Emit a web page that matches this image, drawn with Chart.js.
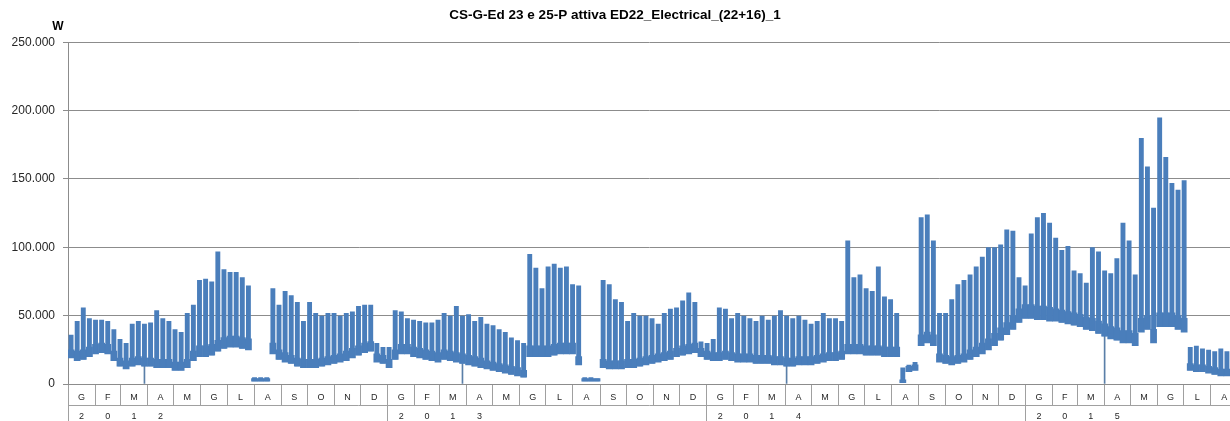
<!DOCTYPE html>
<html>
<head>
<meta charset="utf-8">
<script src="https://cdn.jsdelivr.net/npm/chart.js@4.4.1/dist/chart.umd.min.js"></script>
<style>
  html, body { margin: 0; padding: 0; background: #fff; overflow: hidden; }
  #wrap { width: 1230px; height: 421px; }
</style>
</head>
<body>
<div id="wrap"><canvas id="potenza"></canvas></div>
<script>
// weekly values, in kW (one entry per week, from 1 Jan 2012)
// peak = weekday maximum, base = night minimum, weekend = top of the weekend band
const peak = [
  36, 46, 56, 48, 47, 47, 46, 40, 33, 30,
  44, 46, 44, 45, 54, 48, 46, 40, 38, 52,
  58, 76, 77, 75, 97, 84, 82, 82, 78, 72,
  5, 5, 5, 70, 58, 68, 65, 60, 46, 60,
  52, 50, 52, 52, 50, 52, 53, 57, 58, 58,
  30, 27, 27, 54, 53, 48, 47, 46, 45, 45,
  47, 52, 50, 57, 50, 51, 46, 49, 44, 43,
  40, 38, 34, 32, 30, 95, 85, 70, 86, 88,
  85, 86, 73, 72, 5, 5, 4, 76, 73, 62,
  60, 46, 52, 50, 50, 48, 44, 52, 55, 56,
  61, 67, 60, 31, 30, 33, 56, 55, 48, 52,
  50, 48, 46, 50, 47, 50, 54, 50, 48, 50,
  47, 44, 46, 52, 48, 48, 46, 105, 78, 80,
  70, 68, 86, 64, 62, 52, 12, 14, 16, 122,
  124, 105, 52, 52, 62, 73, 76, 80, 86, 93,
  100, 100, 102, 113, 112, 78, 72, 110, 122, 125,
  118, 107, 98, 101, 83, 81, 74, 100, 97, 83,
  81, 92, 118, 105, 80, 180, 159, 129, 195, 166,
  147, 142, 149, 27, 28, 26, 25, 24, 26, 24
];
const base = [
  19, 17, 18, 20, 22, 23, 22, 17, 13, 11,
  13, 14, 13, 13, 12, 12, 12, 10, 10, 12,
  17, 20, 20, 21, 24, 26, 27, 27, 26, 25,
  2, 2, 2, 22, 18, 16, 15, 13, 12, 12,
  12, 13, 14, 15, 16, 17, 19, 21, 23, 24,
  16, 15, 12, 18, 22, 22, 20, 19, 18, 17,
  16, 18, 17, 16, 15, 14, 13, 12, 11, 10,
  9, 8, 7, 6, 5, 20, 20, 20, 20, 21,
  22, 22, 22, 14, 2, 2, 2, 12, 11, 11,
  11, 12, 12, 13, 14, 15, 16, 17, 18, 20,
  21, 22, 23, 20, 18, 17, 17, 18, 17, 16,
  16, 16, 15, 15, 15, 14, 14, 13, 13, 14,
  14, 14, 15, 16, 17, 17, 18, 22, 22, 22,
  21, 21, 21, 20, 20, 20, 1, 9, 10, 28,
  30, 28, 16, 15, 14, 15, 16, 18, 20, 22,
  25, 28, 32, 36, 40, 45, 48, 48, 47, 47,
  46, 46, 45, 44, 43, 42, 40, 39, 37, 35,
  33, 32, 30, 30, 28, 38, 40, 30, 42, 42,
  42, 40, 38, 10, 9, 9, 8, 7, 6, 6
];
const weekend = [
  25, 24, 25, 27, 29, 30, 29, 24, 19, 17,
  19, 20, 19, 19, 18, 18, 18, 16, 16, 18,
  24, 28, 28, 29, 32, 34, 35, 35, 34, 33,
  4, 4, 4, 30, 25, 23, 21, 19, 18, 18,
  18, 19, 20, 21, 22, 24, 26, 28, 30, 31,
  22, 21, 18, 25, 29, 29, 27, 26, 25, 24,
  23, 25, 24, 23, 22, 21, 20, 19, 17, 16,
  15, 14, 13, 12, 10, 28, 28, 28, 28, 29,
  30, 30, 30, 20, 4, 4, 4, 18, 17, 17,
  17, 18, 18, 19, 20, 21, 22, 23, 24, 26,
  28, 29, 30, 26, 24, 23, 23, 24, 23, 22,
  22, 22, 21, 21, 21, 20, 20, 19, 19, 20,
  20, 20, 21, 22, 23, 23, 24, 29, 29, 29,
  28, 28, 28, 27, 27, 27, 3, 13, 14, 36,
  38, 36, 22, 21, 20, 21, 22, 25, 27, 30,
  33, 37, 41, 45, 50, 55, 58, 58, 57, 57,
  56, 55, 54, 53, 52, 51, 49, 48, 46, 44,
  42, 41, 39, 39, 37, 48, 50, 40, 52, 52,
  52, 50, 48, 15, 14, 14, 13, 12, 11, 11
];
// weeks with a short drop to zero
const outageWeeks = [12, 64, 117, 169];

const monthLetters = ['G', 'F', 'M', 'A', 'M', 'G', 'L', 'A', 'S', 'O', 'N', 'D'];
const yearLabels = ['2012', '2013', '2014', '2015'];
const yTicks = [0, 50000, 100000, 150000, 200000, 250000];

const BLUE = '#4a7ebb';
const GRID = '#8c8c8c';
const SEP = '#a0a0a0';
const FONT = "'Liberation Sans', Arial, sans-serif";

const weeks = peak.map((_, i) => 'S' + (i + 1));
const lastDay = peak.length * 7;

function dayOf(y, m) {
    return Math.round((Date.UTC(y, m, 1) - Date.UTC(2012, 0, 1)) / 864e5);
}

// month and year rows of the axis (Excel style, two levels)
const monthTicks = [];
const yearTicks = [];
yearLabels.forEach(yl => {
    const y = parseInt(yl);
    yearTicks.push({ value: dayOf(y, 0), sep: true, text: '' });
    for (let m = 0; m < 12; m++) {
        const a = dayOf(y, m);
        const b = dayOf(y, m + 1);
        if (a > lastDay) break;
        monthTicks.push({ value: a, sep: true, text: '' });
        const mid = (a + b) / 2;
        if (mid < lastDay) {
            monthTicks.push({ value: mid, sep: false, text: monthLetters[m] });
            if (m < yl.length) yearTicks.push({ value: mid, sep: false, text: yl[m] });
        }
    }
});

function fmtIt(v) {
    return String(v).replace(/\B(?=(\d{3})+(?!\d))/g, '.');
}

const unitLabel = {
    id: 'unitLabel',
    afterDraw(chart) {
        const ctx = chart.ctx;
        ctx.save();
        ctx.font = 'bold 12px ' + FONT;
        ctx.fillStyle = '#000';
        ctx.textAlign = 'center';
        ctx.textBaseline = 'middle';
        ctx.fillText('W', chart.chartArea.left - 10, 27);
        ctx.restore();
    }
};

const ctx = document.getElementById('potenza').getContext('2d');
new Chart(ctx, {
    type: 'bar',
    data: {
        labels: weeks,
        datasets: [
            {
                data: peak.map((p, i) => [base[i] * 1000, p * 1000]),
                backgroundColor: BLUE,
                barPercentage: 0.8,
                categoryPercentage: 1,
                grouped: false,
                xAxisID: 'x', yAxisID: 'y'
            },
            {
                data: weekend.map((w, i) => [base[i] * 1000, w * 1000]),
                backgroundColor: BLUE,
                barPercentage: 1,
                categoryPercentage: 1,
                grouped: false,
                xAxisID: 'x', yAxisID: 'y'
            },
            {
                data: peak.map((_, i) => outageWeeks.includes(i) ? [0, base[i] * 1000] : null),
                backgroundColor: '#5a7fa8',
                barThickness: 1,
                grouped: false,
                xAxisID: 'x', yAxisID: 'y'
            }
        ]
    },
    options: {
        responsive: true,
        maintainAspectRatio: false,
        animation: false,
        layout: { padding: 0 },
        font: { family: FONT },
        plugins: {
            legend: { display: false },
            tooltip: { enabled: false },
            title: {
                display: true,
                text: 'CS-G-Ed 23 e 25-P attiva ED22_Electrical_(22+16)_1',
                color: '#000',
                font: { family: FONT, size: 13.5, weight: 'bold' },
                padding: { top: 7, bottom: 19 }
            }
        },
        scales: {
            x: { type: 'category', display: false, offset: true },
            y: {
                min: 0,
                max: 250000,
                afterBuildTicks: s => { s.ticks = yTicks.map(v => ({ value: v })); },
                ticks: { callback: fmtIt, padding: 8, color: '#262626', font: { family: FONT, size: 12 } },
                grid: { color: GRID, tickLength: 5 },
                border: { color: GRID },
                afterFit: s => { s.width = 68; }
            },
            months: {
                type: 'linear',
                position: 'bottom',
                weight: 0,
                offset: false,
                min: 0,
                max: lastDay,
                afterBuildTicks: s => { s.ticks = monthTicks.map(t => ({ ...t })); },
                ticks: {
                    autoSkip: false, maxRotation: 0, padding: -13,
                    callback: (v, i, t) => t[i].text,
                    color: '#262626', font: { family: FONT, size: 9 }
                },
                grid: {
                    offset: false, drawOnChartArea: false, tickLength: 21,
                    color: c => (c.tick && c.tick.sep) ? SEP : 'rgba(0,0,0,0)'
                },
                border: { color: GRID },
                afterFit: s => { s.height = 21; }
            },
            years: {
                type: 'linear',
                position: 'bottom',
                weight: 1,
                offset: false,
                min: 0,
                max: lastDay,
                afterBuildTicks: s => { s.ticks = yearTicks.map(t => ({ ...t })); },
                ticks: {
                    autoSkip: false, maxRotation: 0, padding: -10,
                    callback: (v, i, t) => t[i].text,
                    color: '#262626', font: { family: FONT, size: 9 }
                },
                grid: {
                    offset: false, drawOnChartArea: false, tickLength: 16,
                    color: c => (c.tick && c.tick.sep) ? SEP : 'rgba(0,0,0,0)'
                },
                border: { color: SEP },
                afterFit: s => { s.height = 16; }
            }
        }
    },
    plugins: [unitLabel]
});
</script>
</body>
</html>
